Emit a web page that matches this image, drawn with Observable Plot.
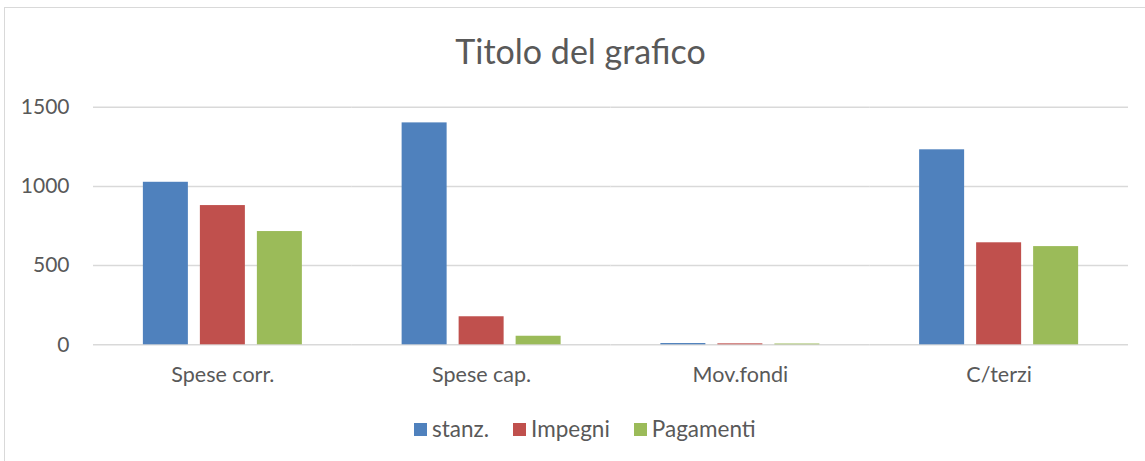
<!DOCTYPE html>
<html>
<head>
<meta charset="utf-8">
<script src="https://cdn.jsdelivr.net/npm/d3@7"></script>
<script src="https://cdn.jsdelivr.net/npm/@observablehq/plot@0.6"></script>
<style>
  html, body { margin: 0; padding: 0; background: #fff; width: 1145px; height: 461px; overflow: hidden; }
  body { position: relative; font-family: Lato, "Open Sans", sans-serif; color: #595959; }
  #frame { position: absolute; left: 4px; top: 7px; width: 1160px; height: 480px; border-left: 1px solid #d9d9d9; border-top: 1px solid #d9d9d9; }
  #title { position: absolute; left: 0; top: 31px; width: 1161px; text-align: center; font-size: 34px; line-height: 40px; }
  #chart { position: absolute; left: 0; top: 90px; }
  #legend { position: absolute; left: 414px; top: 416px; display: flex; gap: 24px; font-size: 22.5px; line-height: 26px; }
  .item { display: flex; align-items: center; }
  .sw { display: inline-block; width: 13px; height: 13px; margin-right: 5px; }
</style>
</head>
<body>
<div id="frame"></div>
<div id="title">Titolo del grafico</div>
<div id="chart"></div>
<div id="legend"></div>
<script>
const categories = ["Spese corr.", "Spese cap.", "Mov.fondi", "C/terzi"];
const series = ["stanz.", "Impegni", "Pagamenti"];
const colors = ["#4F81BD", "#C0504D", "#9BBB59"];
const stanz = [1026, 1401, 8, 1231];
const impegni = [879, 177, 6, 644];
const pagamenti = [715, 54, 5, 620];
const yTicks = [0, 500, 1000, 1500];

const valuesBySeries = [stanz, impegni, pagamenti];
const data = [];
categories.forEach((c, i) => {
  series.forEach((s, j) => data.push({cat: c, series: s, value: valuesBySeries[j][i]}));
});

const chart = Plot.plot({
  width: 1145,
  height: 310,
  marginLeft: 93,
  marginRight: 17,
  marginTop: 16.7,
  marginBottom: 55.7,
  style: {fontFamily: "Lato, 'Open Sans', sans-serif", color: "#595959", background: "transparent"},
  fx: {domain: categories, padding: 0, round: false, label: null},
  x: {domain: series, paddingInner: 12 / 57, paddingOuter: 0.875, round: false, axis: null},
  y: {domain: [0, 1500], label: null},
  color: {domain: series, range: colors},
  marks: [
    Plot.gridY(yTicks, {stroke: "#d9d9d9", strokeOpacity: 1, strokeWidth: 1.5}),
    Plot.barY(data, {fx: "cat", x: "series", y: "value", fill: "series"}),
    Plot.axisY(yTicks, {tickSize: 0, tickPadding: 24, fontSize: 21, fill: "#595959", label: null, tickFormat: d => String(d)}),
    Plot.axisFx({anchor: "bottom", tickSize: 0, tickPadding: 22, fontSize: 21.5, fill: "#595959", label: null})
  ]
});
document.getElementById("chart").appendChild(chart);

const legend = document.getElementById("legend");
series.forEach((s, i) => {
  const item = document.createElement("span");
  item.className = "item";
  const sw = document.createElement("span");
  sw.className = "sw";
  sw.style.background = colors[i];
  item.appendChild(sw);
  item.appendChild(document.createTextNode(s));
  legend.appendChild(item);
});
</script>
</body>
</html>
